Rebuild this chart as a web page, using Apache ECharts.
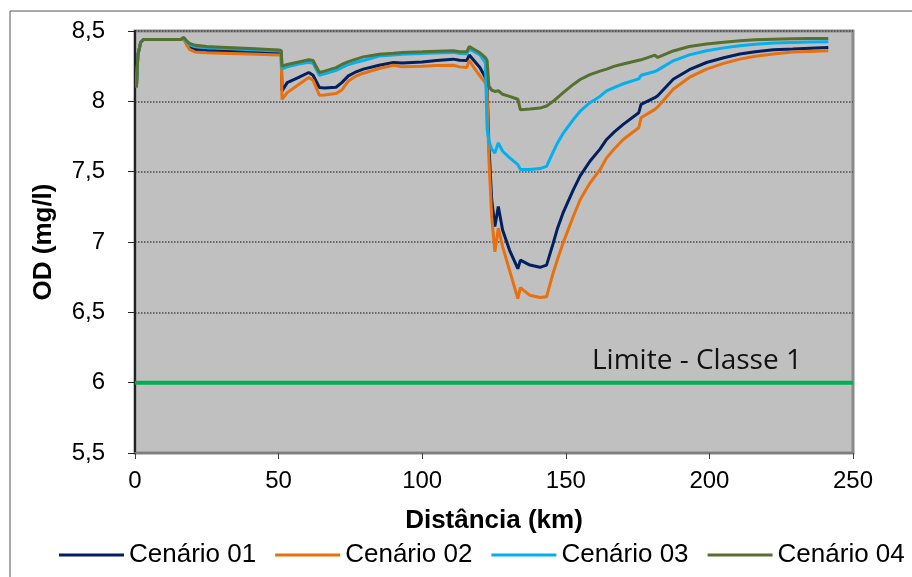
<!DOCTYPE html>
<html>
<head>
<meta charset="utf-8">
<script src="https://cdn.jsdelivr.net/npm/echarts@6/dist/echarts.min.js"></script>
<style>
html,body{margin:0;padding:0;background:#fff;}
#chart{width:912px;height:577px;}
</style>
</head>
<body>
<div id="chart"></div>
<script>
const distanceKm = [0.5,1,2,3,5,10,16,17,18,19,21,25,30,40,50,50.9,51.2,53,57,60.5,62,64.2,66,70,72,74.3,77,79.5,85,90,93,100,105,110.8,113,115.5,116.4,118,120.1,122,122.6,123.2,124.2,125.3,126.5,128,130.4,133.3,134.2,137.5,141,143.3,145.6,147,149,152.6,155,158.4,161.9,164.2,167,170,175.4,176.2,181,182,187.4,193,199,205,210.6,216,222.3,229,235,241.4];

const cenario01 = [8.10,8.33,8.42,8.44,8.44,8.44,8.44,8.45,8.41,8.385,8.368,8.362,8.358,8.352,8.346,8.344,8.074,8.133,8.17,8.205,8.185,8.098,8.095,8.10,8.133,8.181,8.21,8.229,8.257,8.276,8.272,8.28,8.29,8.30,8.292,8.29,8.329,8.29,8.24,8.17,8.10,7.70,7.30,7.11,7.252,7.086,6.943,6.81,6.871,6.836,6.82,6.836,6.99,7.09,7.205,7.371,7.47,7.574,7.66,7.729,7.785,7.836,7.919,7.979,8.026,8.04,8.157,8.225,8.276,8.31,8.336,8.352,8.366,8.372,8.378,8.383];

const cenario02 = [8.10,8.33,8.42,8.44,8.44,8.44,8.44,8.44,8.40,8.37,8.35,8.345,8.342,8.336,8.33,8.328,8.014,8.062,8.12,8.169,8.15,8.043,8.045,8.055,8.08,8.145,8.18,8.20,8.233,8.257,8.245,8.25,8.255,8.257,8.245,8.24,8.29,8.24,8.181,8.13,8.07,7.60,7.18,6.93,7.098,6.967,6.80,6.598,6.676,6.621,6.605,6.61,6.78,6.87,6.99,7.181,7.30,7.419,7.514,7.598,7.665,7.729,7.812,7.883,7.943,7.96,8.086,8.17,8.229,8.27,8.30,8.32,8.336,8.35,8.355,8.36];

const cenario03 = [8.10,8.33,8.42,8.44,8.44,8.44,8.44,8.45,8.42,8.402,8.388,8.382,8.377,8.367,8.357,8.354,8.23,8.245,8.265,8.278,8.27,8.186,8.195,8.22,8.24,8.262,8.278,8.29,8.322,8.33,8.335,8.34,8.344,8.348,8.34,8.338,8.37,8.355,8.33,8.276,7.80,7.72,7.66,7.633,7.705,7.645,7.60,7.55,7.515,7.515,7.522,7.538,7.64,7.70,7.77,7.87,7.93,7.99,8.035,8.074,8.10,8.125,8.16,8.185,8.212,8.222,8.288,8.33,8.36,8.38,8.395,8.405,8.414,8.418,8.421,8.424];

const cenario04 = [8.10,8.33,8.42,8.44,8.44,8.44,8.44,8.455,8.43,8.412,8.398,8.39,8.385,8.375,8.365,8.362,8.25,8.262,8.28,8.295,8.29,8.205,8.215,8.24,8.262,8.282,8.30,8.316,8.335,8.342,8.347,8.352,8.356,8.36,8.352,8.352,8.39,8.37,8.345,8.31,8.29,8.11,8.08,8.07,8.075,8.05,8.035,8.015,7.94,7.945,7.952,7.967,8.00,8.025,8.06,8.12,8.155,8.19,8.215,8.229,8.25,8.265,8.292,8.295,8.328,8.312,8.358,8.39,8.407,8.42,8.431,8.437,8.442,8.445,8.446,8.447];

const limiteKm = [0, 250];
const limiteValor = [6, 6];

const seriesNames = ['Cenário 01','Cenário 02','Cenário 03','Cenário 04'];
const seriesColors = ['#002060','#e8700f','#00b0f0','#56702f'];
const seriesValues = [cenario01, cenario02, cenario03, cenario04];

const chart = echarts.init(document.getElementById('chart'), null, {renderer:'canvas'});

const lineSeries = seriesNames.map((name, i) => ({
  name: name,
  type: 'line',
  data: distanceKm.map((x, j) => [x, seriesValues[i][j]]),
  showSymbol: false,
  symbol: 'none',
  lineStyle: {color: seriesColors[i], width: 3},
  itemStyle: {color: seriesColors[i]},
  z: 3 + i,
  animation: false
}));

lineSeries.unshift({
  name: 'Limite - Classe 1',
  type: 'line',
  data: limiteKm.map((x, j) => [x, limiteValor[j]]),
  showSymbol: false,
  symbol: 'none',
  lineStyle: {color: '#00b050', width: 4},
  z: 2,
  animation: false
});

const option = {
  animation: false,
  backgroundColor: '#ffffff',
  grid: {
    left: 135, right: 59, top: 31, bottom: 124,
    show: true,
    backgroundColor: '#c0c0c0',
    borderColor: '#8a8a8a',
    borderWidth: 3
  },
  legend: {
    data: seriesNames,
    left: 59,
    top: 542,
    width: 880,
    padding: 0,
    itemWidth: 65,
    itemHeight: 3,
    itemGap: 19,
    icon: 'rect',
    textStyle: {fontFamily: 'Liberation Sans, Arial, sans-serif', fontSize: 26, color: '#000'}
  },
  xAxis: {
    type: 'value',
    min: 0, max: 250, interval: 50,
    name: 'Distância (km)',
    nameLocation: 'middle',
    nameGap: 55,
    nameTextStyle: {fontFamily: 'Liberation Sans, Arial, sans-serif', fontSize: 26, fontWeight: 'bold', color: '#000'},
    axisLine: {show: true, onZero: false, lineStyle: {color: '#7f7f7f', width: 2}},
    axisTick: {show: true, inside: false, length: 6, lineStyle: {color: '#404040'}},
    axisLabel: {fontFamily: 'Liberation Sans, Arial, sans-serif', fontSize: 24, color: '#000', margin: 16},
    splitLine: {show: false}
  },
  yAxis: {
    type: 'value',
    min: 5.5, max: 8.5, interval: 0.5,
    name: 'OD (mg/l)',
    nameLocation: 'middle',
    nameGap: 78,
    nameRotate: 90,
    nameTextStyle: {fontFamily: 'Liberation Sans, Arial, sans-serif', fontSize: 26, fontWeight: 'bold', color: '#000'},
    axisLine: {show: true, lineStyle: {color: '#222', width: 2}},
    axisTick: {show: true, inside: false, length: 7, lineStyle: {color: '#222'}},
    axisLabel: {
      fontFamily: 'Liberation Sans, Arial, sans-serif', fontSize: 24, color: '#000', margin: 30,
      formatter: v => String(v).replace('.', ',')
    },
    splitLine: {show: true, lineStyle: {color: '#4a4a4a', type: 'dotted', width: 1.5}}
  },
  graphic: [
    {
      type: 'text',
      left: 592, top: 347,
      style: {text: 'Limite - Classe 1', fontFamily: 'Open Sans, Noto Sans, sans-serif', fontSize: 28, fill: '#111'},
      z: 10
    },
    {
      type: 'polyline',
      shape: {points: [[10, 577], [10, 11], [912, 11]]},
      style: {stroke: '#555', lineWidth: 1, fill: null},
      z: 10
    }
  ],
  series: lineSeries
};

chart.setOption(option);
</script>
</body>
</html>
